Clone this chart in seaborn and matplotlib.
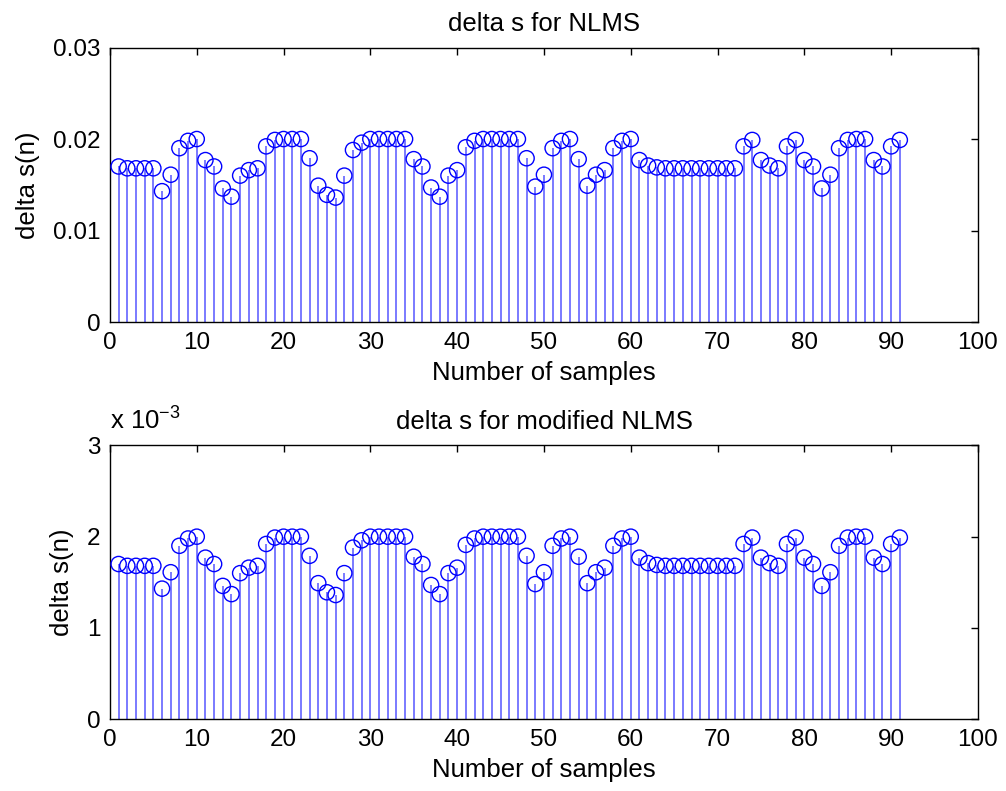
import numpy as np
import pandas as pd
import matplotlib
matplotlib.use("Agg")
import matplotlib.pyplot as plt
import seaborn as sns

# ---- data ----
samples = list(range(1, 92))

delta_s_nlms = [
    0.0170, 0.0168, 0.0168, 0.0168, 0.0168, 0.0143, 0.0161, 0.0190, 0.0198, 0.0200,
    0.0177, 0.0170, 0.0146, 0.0137, 0.0160, 0.0166, 0.0168, 0.0192, 0.0199, 0.0200,
    0.0200, 0.0200, 0.0179, 0.0149, 0.0139, 0.0136, 0.0160, 0.0188, 0.0196, 0.0200,
    0.0200, 0.0200, 0.0200, 0.0200, 0.0178, 0.0170, 0.0147, 0.0137, 0.0160, 0.0166,
    0.0191, 0.0198, 0.0200, 0.0200, 0.0200, 0.0200, 0.0200, 0.0179, 0.0148, 0.0161,
    0.0190, 0.0198, 0.0200, 0.0178, 0.0149, 0.0161, 0.0166, 0.0190, 0.0198, 0.0200,
    0.0177, 0.0171, 0.0169, 0.0168, 0.0168, 0.0168, 0.0168, 0.0168, 0.0168, 0.0168,
    0.0168, 0.0168, 0.0192, 0.0199, 0.0177, 0.0171, 0.0168, 0.0192, 0.0199, 0.0177,
    0.0170, 0.0146, 0.0161, 0.0190, 0.0199, 0.0200, 0.0200, 0.0177, 0.0170, 0.0192,
    0.0199,
]

# modified NLMS, in units of 1e-3
delta_s_modified = [
    1.70, 1.68, 1.68, 1.68, 1.68, 1.43, 1.61, 1.90, 1.98, 2.00,
    1.77, 1.70, 1.46, 1.37, 1.60, 1.66, 1.68, 1.92, 1.99, 2.00,
    2.00, 2.00, 1.79, 1.49, 1.39, 1.36, 1.60, 1.88, 1.96, 2.00,
    2.00, 2.00, 2.00, 2.00, 1.78, 1.70, 1.47, 1.37, 1.60, 1.66,
    1.91, 1.98, 2.00, 2.00, 2.00, 2.00, 2.00, 1.79, 1.48, 1.61,
    1.90, 1.98, 2.00, 1.78, 1.49, 1.61, 1.66, 1.90, 1.98, 2.00,
    1.77, 1.71, 1.69, 1.68, 1.68, 1.68, 1.68, 1.68, 1.68, 1.68,
    1.68, 1.68, 1.92, 1.99, 1.77, 1.71, 1.68, 1.92, 1.99, 1.77,
    1.70, 1.46, 1.61, 1.90, 1.99, 2.00, 2.00, 1.77, 1.70, 1.92,
    1.99,
]

x_ticks = [0, 10, 20, 30, 40, 50, 60, 70, 80, 90, 100]
y_ticks_top = [0, 0.01, 0.02, 0.03]
y_ticks_top_labels = ["0", "0.01", "0.02", "0.03"]
y_ticks_bot = [0, 1, 2, 3]
y_ticks_bot_labels = ["0", "1", "2", "3"]

titles = ["delta s for NLMS", "delta s for modified NLMS"]
xlabel = "Number of samples"
ylabel = "delta s(n)"

# ---- style ----
sns.set_theme(style="white")
plt.rcParams["font.family"] = ["Liberation Sans", "DejaVu Sans"]
plt.rcParams["mathtext.fontset"] = "custom"
plt.rcParams["mathtext.rm"] = "Liberation Sans"
plt.rcParams["mathtext.it"] = "Liberation Sans"
FS_TICK = 17.5
FS_LAB = 18.5

fig = plt.figure(figsize=(10.06, 7.91), dpi=100)
ax_top = fig.add_axes([0.1093, 0.5929, 0.8628, 0.3470])
ax_bot = fig.add_axes([0.1093, 0.0910, 0.8628, 0.3458])

stem_color = "#6464ff"
marker_color = "#0000ff"


def draw(ax, values, ylim, yticks, yticklabels, title):
    df = pd.DataFrame({"n": samples, "v": values})
    ax.vlines(df["n"], 0, df["v"], color=stem_color, lw=1.2, zorder=2)
    sns.scatterplot(data=df, x="n", y="v", ax=ax, marker="o", s=120,
                    facecolor="none", edgecolor=marker_color, linewidth=1.0,
                    zorder=3, legend=False)
    ax.set_xlim(0, 100)
    ax.set_ylim(*ylim)
    ax.set_xticks(x_ticks)
    ax.set_xticklabels([str(t) for t in x_ticks])
    ax.set_yticks(yticks)
    ax.set_yticklabels(yticklabels)
    ax.tick_params(direction="in", length=5, width=1, colors="black",
                   labelsize=FS_TICK, top=True, right=True, pad=7)
    for sp in ax.spines.values():
        sp.set_color("black")
        sp.set_linewidth(1.0)
        sp.set_visible(True)
    ax.set_title(title, fontsize=FS_LAB, pad=12, color="black")
    ax.set_xlabel(xlabel, fontsize=FS_LAB, labelpad=5, color="black")
    ax.set_ylabel(ylabel, fontsize=FS_LAB, labelpad=9, color="black")
    ax.grid(False)


draw(ax_top, delta_s_nlms, (0, 0.03), y_ticks_top, y_ticks_top_labels, titles[0])
draw(ax_bot, delta_s_modified, (0, 3), y_ticks_bot, y_ticks_bot_labels, titles[1])

ax_bot.text(0.0, 1.04, r"x 10$^{-3}$", transform=ax_bot.transAxes,
            ha="left", va="bottom", fontsize=FS_LAB, color="black")

fig.savefig("out.png", dpi=100, facecolor="white")
